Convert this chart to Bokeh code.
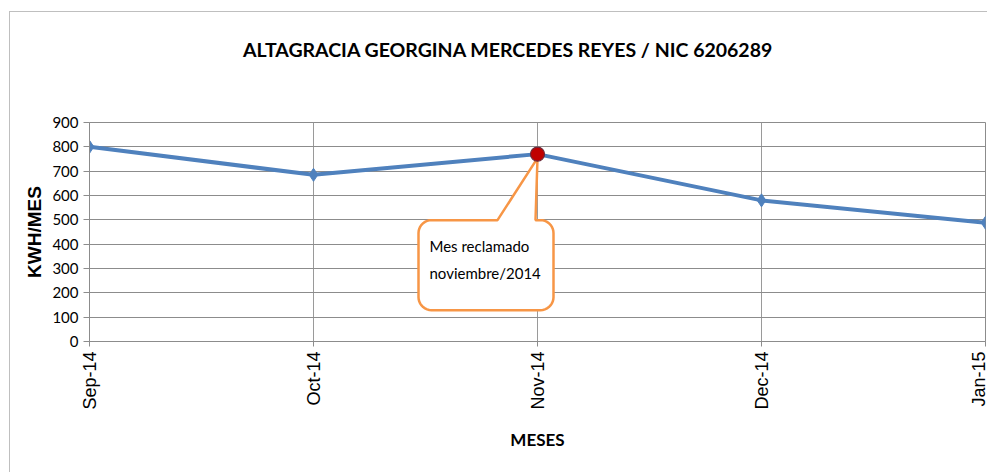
import math
import numpy as np
from bokeh.plotting import figure
from bokeh.layouts import column
from bokeh.models import Range1d, FixedTicker, Label, Div
from bokeh.embed import file_html
from bokeh.resources import INLINE

# ---- data ----
months = ["Sep-14", "Oct-14", "Nov-14", "Dec-14", "Jan-15"]
kwh = [800, 685, 770, 580, 488]
y_ticks = [0, 100, 200, 300, 400, 500, 600, 700, 800, 900]
highlight_month = "Nov-14"
callout_lines = ["Mes reclamado", "noviembre/2014"]
title_text = "ALTAGRACIA GEORGINA MERCEDES REYES / NIC 6206289"
x_label = "MESES"
y_label = "KWH/MES"

xs = list(range(len(months)))
SANS = "Lato"

W = 978
TITLE_H = 90
H = 472 - 11 - TITLE_H
ML, MR, MT, MB = 79, 3, 20, 132

title_div = Div(text=title_text, width=W, height=TITLE_H, margin=0,
                styles={"font-family": SANS, "font-size": "19.5px", "font-weight": "bold",
                        "color": "#000000", "line-height": "22px", "padding-top": "27px",
                        "padding-left": "233px", "box-sizing": "border-box",
                        "white-space": "nowrap"})

p = figure(width=W, height=H, output_backend="svg", toolbar_location=None,
           x_range=Range1d(0, len(months) - 1), y_range=Range1d(0, 900),
           min_border_left=ML, min_border_right=MR, min_border_top=MT, min_border_bottom=MB,
           background_fill_color="white", border_fill_color="white")

fw = W - ML - MR
fh = H - MT - MB
ux = (len(months) - 1) / fw          # data units per pixel, x
uy = 900 / fh                        # data units per pixel, y

p.outline_line_color = "#8c8c8c"
p.outline_line_width = 1

# axes
p.xaxis.ticker = FixedTicker(ticks=xs)
p.xaxis.major_label_overrides = {i: m for i, m in enumerate(months)}
p.xaxis.major_label_orientation = math.pi / 2
p.xaxis.major_label_text_font = "Liberation Sans"
p.xaxis.major_label_text_font_size = "18px"
p.xaxis.major_label_text_color = "#000000"
p.xaxis.minor_tick_line_color = None
p.xaxis.major_tick_in = 0
p.xaxis.major_tick_out = 5
p.xaxis.axis_label = x_label
p.xaxis.axis_label_text_font = SANS
p.xaxis.axis_label_text_font_size = "17px"
p.xaxis.axis_label_text_font_style = "bold"
p.xaxis.axis_label_text_color = "#000000"
p.xaxis.axis_label_standoff = 16

p.yaxis.ticker = FixedTicker(ticks=y_ticks)
p.yaxis.major_label_text_font = SANS
p.yaxis.major_label_text_font_size = "15px"
p.yaxis.major_label_text_color = "#000000"
p.yaxis.minor_tick_line_color = None
p.yaxis.major_tick_in = 0
p.yaxis.major_tick_out = 6
p.yaxis.major_label_standoff = 5
p.yaxis.axis_label = y_label
p.yaxis.axis_label_text_font = "Liberation Sans"
p.yaxis.axis_label_text_font_size = "19px"
p.yaxis.axis_label_text_font_style = "bold"
p.yaxis.axis_label_text_color = "#000000"
p.yaxis.axis_label_standoff = 4

for ax in (p.xaxis, p.yaxis):
    ax.axis_line_color = "#8c8c8c"
    ax.major_tick_line_color = "#8c8c8c"

p.xgrid.grid_line_color = "#9a9a9a"
p.ygrid.grid_line_color = "#8c8c8c"
p.xgrid.ticker = FixedTicker(ticks=xs)
p.ygrid.ticker = FixedTicker(ticks=y_ticks)

# ---- callout (geometry in pixel offsets from highlighted point) ----
hi = months.index(highlight_month)
hx, hy = xs[hi], kwh[hi]

L, R, T, B, r = -119, 16, 66, 156, 13
pts = []
def arc(cx, cy, a0, a1):
    for a in np.linspace(a0, a1, 10):
        pts.append((cx + r * math.cos(a), cy + r * math.sin(a)))
pts.append((-40, T))
pts.append((0, 4))
pts.append((-2, T))
arc(R - r, T + r, -math.pi / 2, 0)
arc(R - r, B - r, 0, math.pi / 2)
arc(L + r, B - r, math.pi / 2, math.pi)
arc(L + r, T + r, math.pi, 1.5 * math.pi)
pts.append((-40, T))
cx_ = [hx + px * ux for px, py in pts]
cy_ = [hy - py * uy for px, py in pts]
p.patch(cx_, cy_, fill_color="white", line_color="#F79646", line_width=2.5)

for i, t in enumerate(callout_lines):
    p.add_layout(Label(x=hx - 108 * ux, y=hy - (92 + 27 * i) * uy, text=t,
                       text_font=SANS, text_font_size="15px", text_color="#000000",
                       text_baseline="middle", text_align="left"))

# ---- series ----
p.line(xs, kwh, line_color="#4F81BD", line_width=4)
p.scatter(xs, kwh, marker="diamond", size=13, fill_color="#4F81BD", line_color="#4F81BD")
p.scatter([hx], [hy], marker="circle", size=14, fill_color="#C00000", line_color="#6b2a3a", line_width=1.2)

layout = column(title_div, p, spacing=0)
layout.margin = (11, 0, 0, 9)
layout.styles = {"border-top": "1px solid #bfbfbf", "border-left": "1px solid #bfbfbf"}

open("out.html", "w").write(file_html(layout, INLINE))
